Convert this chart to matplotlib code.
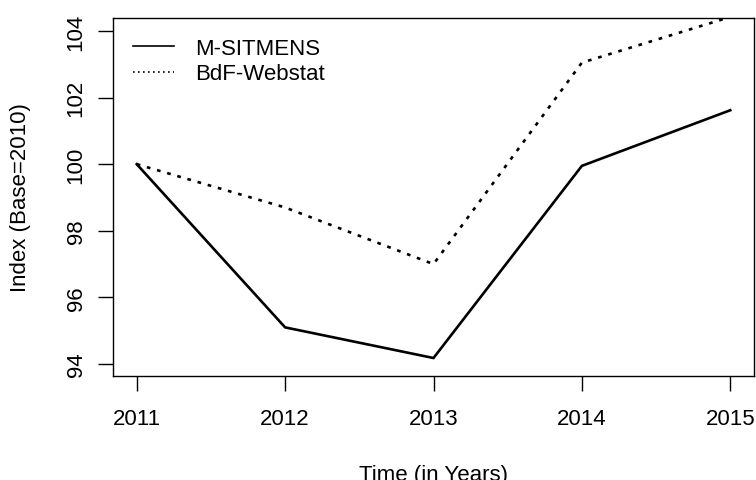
import matplotlib.pyplot as plt
from matplotlib.lines import Line2D

plt.rcParams['font.family'] = ['Liberation Sans', 'DejaVu Sans']

# Index values (Base = 2010)
years = [2011, 2012, 2013, 2014, 2015]
m_sitmens = [100.0, 95.1, 94.18, 99.95, 101.62]
bdf_webstat = [100.0, 98.7, 97.0, 103.05, 104.42]
x_ticks = [2011, 2012, 2013, 2014, 2015]
y_ticks = [94, 96, 98, 100, 102, 104]

fig = plt.figure(figsize=(7.56, 4.81), dpi=100)
ax = fig.add_axes([113 / 756, 1 - 377 / 481, (754 - 113) / 756, (377 - 19) / 481])

ax.plot(years, m_sitmens, color='black', lw=1.9, solid_joinstyle='miter')
ax.plot(years, bdf_webstat, color='black', lw=1.9, linestyle=(0, (1.4, 2.6)), dash_capstyle='butt')

ax.set_xlim(2010.84, 2015.16)
ax.set_ylim(93.64, 104.39)

ax.set_xticks(x_ticks)
ax.set_yticks(y_ticks)
ax.set_xticklabels([str(x) for x in x_ticks], fontsize=16)
ax.set_yticklabels([str(y) for y in y_ticks], fontsize=16, rotation=90, va='center')
ax.tick_params(axis='x', length=11, width=1, pad=12)
ax.tick_params(axis='y', length=11, width=1, pad=8)
for s in ax.spines.values():
    s.set_linewidth(1)

ax.set_xlabel('Time (in Years)', fontsize=16, labelpad=25)
ax.set_ylabel('Index (Base=2010)', fontsize=16, labelpad=25)

handles = [Line2D([], [], color='black', lw=1.2),
           Line2D([], [], color='black', lw=1.2, linestyle=(0, (1, 2)))]
ax.legend(handles, ['M-SITMENS', 'BdF-Webstat'], loc='upper left', frameon=False,
          fontsize=16, handlelength=1.85, handletextpad=0.95, labelspacing=0.2,
          borderaxespad=0.5, bbox_to_anchor=(0.0, 1.0))

fig.savefig('out.png', dpi=100)
